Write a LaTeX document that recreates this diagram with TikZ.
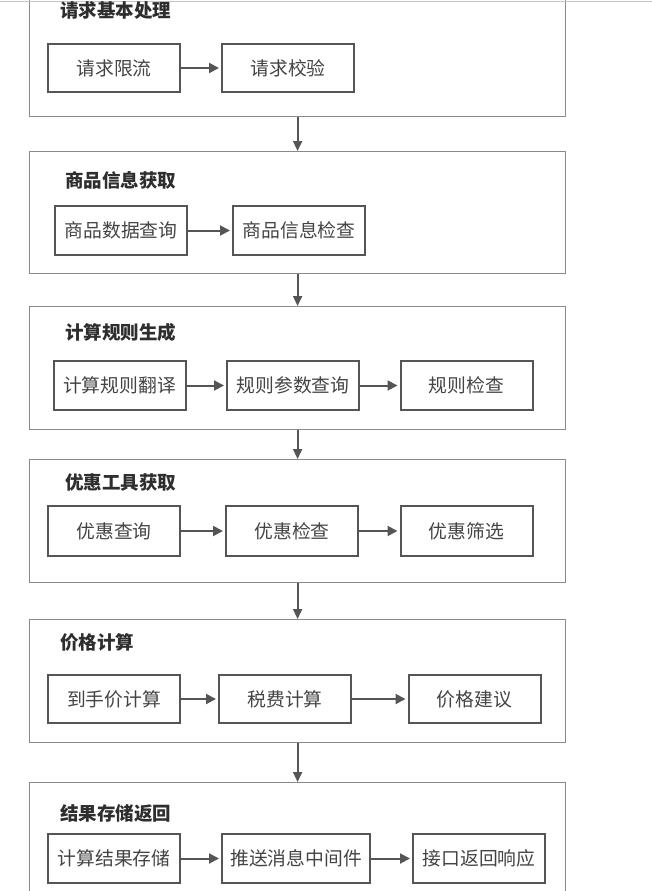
\documentclass[tikz,border=0pt]{standalone}
\usepackage{fontspec}
\newfontfamily\cjk{Noto Sans CJK SC}
\usetikzlibrary{arrows.meta}
\definecolor{outline}{HTML}{8A8A8A}
\definecolor{inline}{HTML}{555555}
\definecolor{intext}{HTML}{444444}
\definecolor{titletext}{HTML}{2E2E2E}
\definecolor{topline}{HTML}{C4C4C4}
\tikzset{
  outbox/.style={draw=outline, line width=1.2pt, fill=white, rectangle, anchor=north west, minimum width=536pt, inner sep=0pt},
  inbox/.style={draw=inline, line width=2pt, fill=white, rectangle, minimum width=132pt, minimum height=48pt, inner sep=0pt, text=intext, font=\cjk\fontsize{18.8}{21}\selectfont},
  grouptitle/.style={anchor=west, inner sep=0pt, text=titletext, font=\cjk\bfseries\fontsize{18.5}{21}\selectfont},
  flow/.style={draw=inline, line width=2pt, -{Triangle[length=10pt,width=10pt]}, shorten >=2pt},
  link/.style={draw=inline, line width=2pt, -{Triangle[length=10pt,width=9pt]}}
}
\begin{document}
\begin{tikzpicture}[x=1pt,y=-1pt]
\useasboundingbox (0,0) rectangle (652,891);
\fill[white] (0,0) rectangle (652,891);
\clip (0,0) rectangle (652,891);

% group boxes
\node[outbox, minimum height=126pt] (g1) at (29,-10) {};
\node[outbox, minimum height=122pt] (g2) at (29,151) {};
\node[outbox, minimum height=123pt] (g3) at (29,306) {};
\node[outbox, minimum height=123pt] (g4) at (29,459) {};
\node[outbox, minimum height=123pt] (g5) at (29,619) {};
\node[outbox, minimum height=130pt] (g6) at (29,782) {};

\draw[topline, line width=1.2pt] (0,1.5) -- (652,1.5);

% titles
\node[grouptitle] (t1) at (60,10) {请求基本处理};
\node[grouptitle] (t2) at (65,180) {商品信息获取};
\node[grouptitle] (t3) at (65,332) {计算规则生成};
\node[grouptitle] (t4) at (65,483) {优惠工具获取};
\node[grouptitle] (t5) at (60,642) {价格计算};
\node[grouptitle] (t6) at (60,813) {结果存储返回};

% row 1
\node[inbox] (a1) at (114,68) {请求限流};
\node[inbox] (a2) at (288,68) {请求校验};
% row 2
\node[inbox, minimum height=49pt] (b1) at (121,230.5) {商品数据查询};
\node[inbox, minimum height=49pt] (b2) at (299,230.5) {商品信息检查};
% row 3
\node[inbox, minimum height=49pt] (c1) at (119.5,385.5) {计算规则翻译};
\node[inbox, minimum height=49pt] (c2) at (293,385.5) {规则参数查询};
\node[inbox, minimum height=49pt] (c3) at (466.5,385.5) {规则检查};
% row 4
\node[inbox, minimum height=50pt] (d1) at (114,531) {优惠查询};
\node[inbox, minimum height=50pt] (d2) at (292,531) {优惠检查};
\node[inbox, minimum height=50pt] (d3) at (466.5,531) {优惠筛选};
% row 5
\node[inbox] (e1) at (114,699) {到手价计算};
\node[inbox] (e2) at (285,699) {税费计算};
\node[inbox] (e3) at (474.5,699) {价格建议};
% row 6
\node[inbox, minimum height=49pt] (f1) at (114,858.5) {计算结果存储};
\node[inbox, minimum height=49pt, minimum width=148pt] (f2) at (296,858.5) {推送消息中间件};
\node[inbox, minimum height=49pt] (f3) at (479,858.5) {接口返回响应};

% flows inside groups
\draw[flow] (a1) -- (a2);
\draw[flow] (b1) -- (b2);
\draw[flow] (c1) -- (c2);
\draw[flow] (c2) -- (c3);
\draw[flow] (d1) -- (d2);
\draw[flow] (d2) -- (d3);
\draw[flow] (e1) -- (e2);
\draw[flow] (e2) -- (e3);
\draw[flow] (f1) -- (f2);
\draw[flow] (f2) -- (f3);

% links between groups
\draw[link] (g1.south) -- (g2.north);
\draw[link] (g2.south) -- (g3.north);
\draw[link] (g3.south) -- (g4.north);
\draw[link] (g4.south) -- (g5.north);
\draw[link] (g5.south) -- (g6.north);
\end{tikzpicture}
\end{document}
